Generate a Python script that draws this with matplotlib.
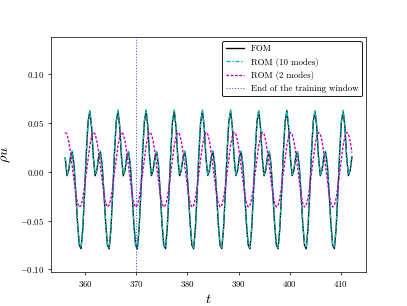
import numpy as np
import matplotlib
matplotlib.use("Agg")
import matplotlib.pyplot as plt

plt.rcParams["font.family"] = "serif"
plt.rcParams["font.serif"] = ["cmr10"]
plt.rcParams["mathtext.fontset"] = "cm"
plt.rcParams["axes.formatter.use_mathtext"] = True

# sample times (step ~0.345)
t_start = 356.04
dt = 0.3447

# FOM, one row per period
fom = [
    0.0142, -0.0041, 0.0014, 0.0150, 0.0202, 0.0068, -0.0214, -0.0527, -0.0750, -0.0788, -0.0584, -0.0216, 0.0194, 0.0511, 0.0619, 0.0454,
    0.0140, -0.0042, 0.0013, 0.0151, 0.0203, 0.0067, -0.0215, -0.0528, -0.0751, -0.0790, -0.0585, -0.0217, 0.0193, 0.0510, 0.0620, 0.0455,
    0.0142, -0.0043, 0.0014, 0.0150, 0.0202, 0.0068, -0.0214, -0.0527, -0.0750, -0.0789, -0.0584, -0.0216, 0.0194, 0.0511, 0.0619, 0.0454,
    0.0141, -0.0041, 0.0015, 0.0151, 0.0201, 0.0067, -0.0213, -0.0526, -0.0749, -0.0788, -0.0583, -0.0215, 0.0195, 0.0512, 0.0620, 0.0453,
    0.0142, -0.0042, 0.0014, 0.0150, 0.0202, 0.0068, -0.0214, -0.0527, -0.0750, -0.0789, -0.0584, -0.0216, 0.0194, 0.0511, 0.0619, 0.0454,
    0.0143, -0.0040, 0.0015, 0.0149, 0.0201, 0.0069, -0.0213, -0.0528, -0.0751, -0.0788, -0.0585, -0.0217, 0.0193, 0.0510, 0.0620, 0.0455,
    0.0142, -0.0041, 0.0014, 0.0150, 0.0202, 0.0068, -0.0214, -0.0527, -0.0750, -0.0789, -0.0584, -0.0216, 0.0194, 0.0511, 0.0619, 0.0454,
    0.0141, -0.0042, 0.0013, 0.0151, 0.0203, 0.0067, -0.0215, -0.0526, -0.0749, -0.0788, -0.0583, -0.0215, 0.0195, 0.0512, 0.0620, 0.0453,
    0.0142, -0.0041, 0.0014, 0.0150, 0.0202, 0.0068, -0.0214, -0.0527, -0.0750, -0.0789, -0.0584, -0.0216, 0.0194, 0.0511, 0.0619, 0.0454,
    0.0142, -0.0042, 0.0014, 0.0150, 0.0202, 0.0068, -0.0214, -0.0527, -0.0750, -0.0788, -0.0584, -0.0216, 0.0194, 0.0511, 0.0620, 0.0454,
    0.0142, -0.0041, 0.0014, 0.0150,
]

# ROM with 10 modes
rom10 = [
    0.0150, -0.0030, 0.0022, 0.0158, 0.0212, 0.0078, -0.0203, -0.0515, -0.0738, -0.0776, -0.0575, -0.0205, 0.0205, 0.0522, 0.0632, 0.0466,
    0.0151, -0.0031, 0.0021, 0.0159, 0.0213, 0.0077, -0.0204, -0.0516, -0.0739, -0.0777, -0.0576, -0.0206, 0.0204, 0.0521, 0.0633, 0.0467,
    0.0150, -0.0030, 0.0022, 0.0158, 0.0212, 0.0078, -0.0203, -0.0515, -0.0738, -0.0776, -0.0575, -0.0205, 0.0205, 0.0522, 0.0632, 0.0466,
    0.0149, -0.0029, 0.0023, 0.0157, 0.0211, 0.0079, -0.0202, -0.0514, -0.0737, -0.0775, -0.0574, -0.0204, 0.0206, 0.0523, 0.0631, 0.0465,
    0.0150, -0.0030, 0.0022, 0.0158, 0.0212, 0.0078, -0.0203, -0.0515, -0.0738, -0.0776, -0.0575, -0.0205, 0.0205, 0.0522, 0.0632, 0.0466,
    0.0151, -0.0031, 0.0021, 0.0159, 0.0213, 0.0077, -0.0204, -0.0516, -0.0739, -0.0777, -0.0576, -0.0206, 0.0204, 0.0521, 0.0633, 0.0467,
    0.0150, -0.0030, 0.0022, 0.0158, 0.0212, 0.0078, -0.0203, -0.0515, -0.0738, -0.0776, -0.0575, -0.0205, 0.0205, 0.0522, 0.0632, 0.0466,
    0.0149, -0.0029, 0.0023, 0.0157, 0.0211, 0.0079, -0.0202, -0.0514, -0.0737, -0.0775, -0.0574, -0.0204, 0.0206, 0.0523, 0.0631, 0.0465,
    0.0150, -0.0030, 0.0022, 0.0158, 0.0212, 0.0078, -0.0203, -0.0515, -0.0738, -0.0776, -0.0575, -0.0205, 0.0205, 0.0522, 0.0632, 0.0466,
    0.0151, -0.0031, 0.0021, 0.0159, 0.0213, 0.0077, -0.0204, -0.0516, -0.0739, -0.0777, -0.0576, -0.0206, 0.0204, 0.0521, 0.0633, 0.0467,
    0.0150, -0.0030, 0.0022, 0.0158,
]

# ROM with 2 modes
rom2 = [
    0.0402, 0.0384, 0.0312, 0.0194, 0.0051, -0.0098, -0.0228, -0.0321, -0.0362, -0.0344, -0.0272, -0.0154, -0.0011, 0.0138, 0.0268, 0.0361,
    0.0402, 0.0385, 0.0313, 0.0195, 0.0052, -0.0097, -0.0227, -0.0320, -0.0361, -0.0343, -0.0271, -0.0153, -0.0010, 0.0139, 0.0269, 0.0362,
    0.0403, 0.0384, 0.0312, 0.0194, 0.0051, -0.0098, -0.0228, -0.0321, -0.0362, -0.0344, -0.0272, -0.0154, -0.0011, 0.0138, 0.0268, 0.0361,
    0.0402, 0.0384, 0.0312, 0.0194, 0.0051, -0.0098, -0.0228, -0.0321, -0.0362, -0.0344, -0.0272, -0.0154, -0.0011, 0.0138, 0.0268, 0.0361,
    0.0401, 0.0383, 0.0311, 0.0193, 0.0050, -0.0099, -0.0229, -0.0322, -0.0363, -0.0345, -0.0273, -0.0155, -0.0012, 0.0137, 0.0267, 0.0360,
    0.0402, 0.0384, 0.0312, 0.0194, 0.0051, -0.0098, -0.0228, -0.0321, -0.0362, -0.0344, -0.0272, -0.0154, -0.0011, 0.0138, 0.0268, 0.0361,
    0.0402, 0.0384, 0.0312, 0.0194, 0.0051, -0.0098, -0.0228, -0.0321, -0.0362, -0.0344, -0.0272, -0.0154, -0.0011, 0.0138, 0.0268, 0.0361,
    0.0403, 0.0385, 0.0313, 0.0195, 0.0052, -0.0097, -0.0227, -0.0320, -0.0361, -0.0343, -0.0271, -0.0153, -0.0010, 0.0139, 0.0269, 0.0362,
    0.0402, 0.0384, 0.0312, 0.0194, 0.0051, -0.0098, -0.0228, -0.0321, -0.0362, -0.0344, -0.0272, -0.0154, -0.0011, 0.0138, 0.0268, 0.0361,
    0.0402, 0.0384, 0.0312, 0.0194, 0.0051, -0.0098, -0.0228, -0.0321, -0.0362, -0.0344, -0.0272, -0.0154, -0.0011, 0.0138, 0.0268, 0.0361,
    0.0402, 0.0384, 0.0312, 0.0194,
]

t_train_end = 370.0

t = t_start + dt * np.arange(len(fom))

fig, ax = plt.subplots(figsize=(407 / 64, 306 / 64), dpi=64)
ax.plot(t, fom, color="k", ls="-", lw=1.5, label="FOM")
ax.plot(t, rom10, color="c", ls=(0, (3.2, 1.2, 1, 1.2)), lw=1.5, label="ROM (10 modes)")
ax.plot(t, rom2, color="m", ls=(0, (2, 1.2)), lw=1.5, label="ROM (2 modes)")
ax.axvline(t_train_end, color="b", ls=":", lw=1.2, alpha=0.7, label="End of the training window")

ax.set_ylim(-0.103, 0.138)
ax.set_xlabel(r"$t$", fontsize=16)
ax.set_ylabel(r"$\rho u$", fontsize=16, labelpad=8)
ax.legend(loc="upper right", edgecolor="k", framealpha=1, fancybox=True)

plt.savefig("out.png", dpi=64)
